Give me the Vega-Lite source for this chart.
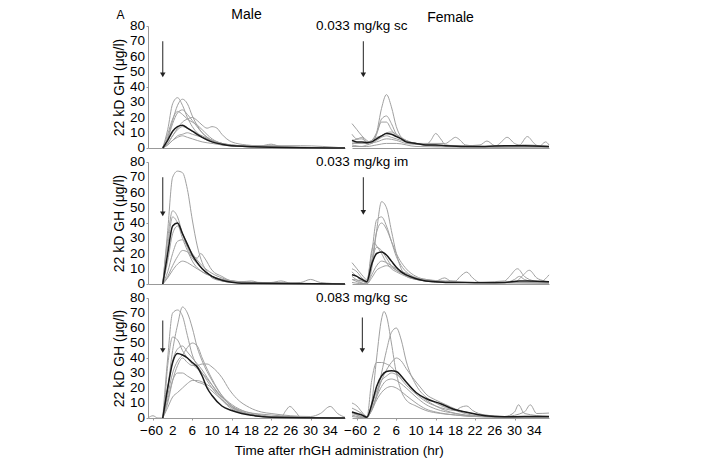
{
  "$schema": "https://vega.github.io/schema/vega-lite/v6.json",
  "padding": {"left": 112, "top": 8, "right": 5, "bottom": 5},
  "config": {
    "font": "Liberation Sans",
    "view": {"stroke": null},
    "title": {"fontSize": 14, "fontWeight": "normal", "offset": -3, "color": "#000"},
    "text": {"fontSize": 13.5, "color": "#000"},
    "axis": {"labelColor": "#000", "titleColor": "#000", "grid": false, "domainColor": "#999", "tickColor": "#999"}
  },
  "datasets": {
    "yticks": [{"v":0},{"v":10},{"v":20},{"v":30},{"v":40},{"v":50},{"v":60},{"v":70},{"v":80}],
    "xticks": [{"t":-2.3,"lab":"−60"},{"t":2,"lab":"2"},{"t":6,"lab":"6"},{"t":10,"lab":"10"},{"t":14,"lab":"14"},{"t":18,"lab":"18"},{"t":22,"lab":"22"},{"t":26,"lab":"26"},{"t":30,"lab":"30"},{"t":34,"lab":"34"}],
    "gh": [
      {"g":1,"s":"a","t":0,"v":0},{"g":1,"s":"a","t":1,"v":12},{"g":1,"s":"a","t":2,"v":29},{"g":1,"s":"a","t":3,"v":33},{"g":1,"s":"a","t":4,"v":28},{"g":1,"s":"a","t":5,"v":20},{"g":1,"s":"a","t":6,"v":14},{"g":1,"s":"a","t":8,"v":7},{"g":1,"s":"a","t":10,"v":4},{"g":1,"s":"a","t":12,"v":2},{"g":1,"s":"a","t":16,"v":1},{"g":1,"s":"a","t":20,"v":0.5},{"g":1,"s":"a","t":37,"v":0},
      {"g":1,"s":"b","t":0,"v":0},{"g":1,"s":"b","t":1,"v":7},{"g":1,"s":"b","t":2,"v":18},{"g":1,"s":"b","t":3,"v":28},{"g":1,"s":"b","t":4,"v":32},{"g":1,"s":"b","t":5,"v":29},{"g":1,"s":"b","t":6,"v":21},{"g":1,"s":"b","t":8,"v":10},{"g":1,"s":"b","t":10,"v":5},{"g":1,"s":"b","t":12,"v":2.5},{"g":1,"s":"b","t":16,"v":1},{"g":1,"s":"b","t":37,"v":0},
      {"g":1,"s":"c","t":0,"v":0},{"g":1,"s":"c","t":1,"v":6},{"g":1,"s":"c","t":2,"v":16},{"g":1,"s":"c","t":3,"v":23},{"g":1,"s":"c","t":4,"v":25},{"g":1,"s":"c","t":5,"v":22},{"g":1,"s":"c","t":6,"v":18},{"g":1,"s":"c","t":8,"v":10},{"g":1,"s":"c","t":10,"v":5},{"g":1,"s":"c","t":12,"v":3},{"g":1,"s":"c","t":16,"v":1.5},{"g":1,"s":"c","t":20,"v":1.5},{"g":1,"s":"c","t":22,"v":2.5},{"g":1,"s":"c","t":24,"v":1},{"g":1,"s":"c","t":37,"v":0},
      {"g":1,"s":"d","t":0,"v":0},{"g":1,"s":"d","t":1,"v":9},{"g":1,"s":"d","t":2,"v":19},{"g":1,"s":"d","t":3,"v":24},{"g":1,"s":"d","t":4,"v":22},{"g":1,"s":"d","t":5,"v":19},{"g":1,"s":"d","t":6,"v":17},{"g":1,"s":"d","t":7,"v":15},{"g":1,"s":"d","t":8,"v":12},{"g":1,"s":"d","t":10,"v":6},{"g":1,"s":"d","t":12,"v":3},{"g":1,"s":"d","t":15,"v":1.5},{"g":1,"s":"d","t":28,"v":1.5},{"g":1,"s":"d","t":37,"v":0},
      {"g":1,"s":"e","t":0,"v":0},{"g":1,"s":"e","t":1,"v":3},{"g":1,"s":"e","t":2,"v":8},{"g":1,"s":"e","t":3,"v":13},{"g":1,"s":"e","t":4,"v":17},{"g":1,"s":"e","t":5,"v":19},{"g":1,"s":"e","t":6,"v":20},{"g":1,"s":"e","t":7,"v":18},{"g":1,"s":"e","t":8,"v":15},{"g":1,"s":"e","t":9,"v":13},{"g":1,"s":"e","t":10,"v":14},{"g":1,"s":"e","t":11,"v":13},{"g":1,"s":"e","t":12,"v":9},{"g":1,"s":"e","t":14,"v":4},{"g":1,"s":"e","t":17,"v":2},{"g":1,"s":"e","t":22,"v":1},{"g":1,"s":"e","t":37,"v":0},
      {"g":1,"s":"f","t":0,"v":0},{"g":1,"s":"f","t":1,"v":3},{"g":1,"s":"f","t":2,"v":8},{"g":1,"s":"f","t":3,"v":12},{"g":1,"s":"f","t":4,"v":14},{"g":1,"s":"f","t":5,"v":13},{"g":1,"s":"f","t":6,"v":11},{"g":1,"s":"f","t":8,"v":8},{"g":1,"s":"f","t":10,"v":5},{"g":1,"s":"f","t":12,"v":3},{"g":1,"s":"f","t":14,"v":2},{"g":1,"s":"f","t":18,"v":1},{"g":1,"s":"f","t":37,"v":0},
      {"g":1,"s":"g","t":0,"v":0},{"g":1,"s":"g","t":1,"v":2},{"g":1,"s":"g","t":2,"v":5},{"g":1,"s":"g","t":3,"v":8},{"g":1,"s":"g","t":4,"v":9},{"g":1,"s":"g","t":5,"v":10},{"g":1,"s":"g","t":6,"v":9},{"g":1,"s":"g","t":8,"v":7},{"g":1,"s":"g","t":10,"v":5},{"g":1,"s":"g","t":12,"v":3},{"g":1,"s":"g","t":14,"v":2},{"g":1,"s":"g","t":18,"v":1},{"g":1,"s":"g","t":37,"v":0},
      {"g":1,"s":"h","t":0,"v":0},{"g":1,"s":"h","t":1,"v":2},{"g":1,"s":"h","t":2,"v":5},{"g":1,"s":"h","t":3,"v":7},{"g":1,"s":"h","t":4,"v":8},{"g":1,"s":"h","t":5,"v":7},{"g":1,"s":"h","t":6,"v":6},{"g":1,"s":"h","t":8,"v":4},{"g":1,"s":"h","t":10,"v":3},{"g":1,"s":"h","t":12,"v":2},{"g":1,"s":"h","t":16,"v":1},{"g":1,"s":"h","t":37,"v":0},
      {"g":1,"s":"m","t":0,"v":0},{"g":1,"s":"m","t":1,"v":5},{"g":1,"s":"m","t":2,"v":11},{"g":1,"s":"m","t":3,"v":14},{"g":1,"s":"m","t":4,"v":15},{"g":1,"s":"m","t":5,"v":13},{"g":1,"s":"m","t":6,"v":11},{"g":1,"s":"m","t":8,"v":7},{"g":1,"s":"m","t":10,"v":4},{"g":1,"s":"m","t":12,"v":2.5},{"g":1,"s":"m","t":14,"v":1.5},{"g":1,"s":"m","t":17,"v":1},{"g":1,"s":"m","t":22,"v":0.5},{"g":1,"s":"m","t":37,"v":0},

      {"g":2,"s":"a","t":-3,"v":16},{"g":2,"s":"a","t":-2,"v":12},{"g":2,"s":"a","t":-1,"v":8},{"g":2,"s":"a","t":0,"v":5},{"g":2,"s":"a","t":1,"v":3},{"g":2,"s":"a","t":2,"v":10},{"g":2,"s":"a","t":3,"v":26},{"g":2,"s":"a","t":4,"v":35},{"g":2,"s":"a","t":5,"v":27},{"g":2,"s":"a","t":6,"v":14},{"g":2,"s":"a","t":7,"v":7},{"g":2,"s":"a","t":8,"v":4},{"g":2,"s":"a","t":10,"v":3},{"g":2,"s":"a","t":12,"v":2},{"g":2,"s":"a","t":16,"v":1},{"g":2,"s":"a","t":24,"v":1},{"g":2,"s":"a","t":37,"v":1},
      {"g":2,"s":"b","t":-3,"v":5},{"g":2,"s":"b","t":-1,"v":6},{"g":2,"s":"b","t":0,"v":4},{"g":2,"s":"b","t":1,"v":4},{"g":2,"s":"b","t":2,"v":9},{"g":2,"s":"b","t":3,"v":19},{"g":2,"s":"b","t":4,"v":21},{"g":2,"s":"b","t":5,"v":16},{"g":2,"s":"b","t":6,"v":9},{"g":2,"s":"b","t":7,"v":6},{"g":2,"s":"b","t":8,"v":4},{"g":2,"s":"b","t":10,"v":3},{"g":2,"s":"b","t":12,"v":2},{"g":2,"s":"b","t":13,"v":5},{"g":2,"s":"b","t":14,"v":9.5},{"g":2,"s":"b","t":15,"v":6},{"g":2,"s":"b","t":16,"v":2},{"g":2,"s":"b","t":20,"v":1},{"g":2,"s":"b","t":37,"v":1},
      {"g":2,"s":"c","t":-3,"v":9},{"g":2,"s":"c","t":-2,"v":6},{"g":2,"s":"c","t":-1,"v":7},{"g":2,"s":"c","t":0,"v":4},{"g":2,"s":"c","t":1,"v":5},{"g":2,"s":"c","t":2,"v":10},{"g":2,"s":"c","t":3,"v":17},{"g":2,"s":"c","t":4,"v":17},{"g":2,"s":"c","t":5,"v":12},{"g":2,"s":"c","t":6,"v":8},{"g":2,"s":"c","t":8,"v":5},{"g":2,"s":"c","t":10,"v":3},{"g":2,"s":"c","t":16,"v":3},{"g":2,"s":"c","t":17,"v":5},{"g":2,"s":"c","t":18,"v":7},{"g":2,"s":"c","t":19,"v":5},{"g":2,"s":"c","t":20,"v":2},{"g":2,"s":"c","t":24,"v":1},{"g":2,"s":"c","t":37,"v":1},
      {"g":2,"s":"d","t":-3,"v":3},{"g":2,"s":"d","t":0,"v":3},{"g":2,"s":"d","t":1,"v":5},{"g":2,"s":"d","t":2,"v":7},{"g":2,"s":"d","t":3,"v":8},{"g":2,"s":"d","t":4,"v":10},{"g":2,"s":"d","t":5,"v":10.5},{"g":2,"s":"d","t":6,"v":9},{"g":2,"s":"d","t":7,"v":7},{"g":2,"s":"d","t":8,"v":5},{"g":2,"s":"d","t":10,"v":3},{"g":2,"s":"d","t":12,"v":2},{"g":2,"s":"d","t":16,"v":1},{"g":2,"s":"d","t":24,"v":1},{"g":2,"s":"d","t":28,"v":1},{"g":2,"s":"d","t":32,"v":2},{"g":2,"s":"d","t":37,"v":1},
      {"g":2,"s":"e","t":-3,"v":2},{"g":2,"s":"e","t":-1,"v":1},{"g":2,"s":"e","t":0,"v":2},{"g":2,"s":"e","t":1,"v":3},{"g":2,"s":"e","t":2,"v":5},{"g":2,"s":"e","t":3,"v":7},{"g":2,"s":"e","t":4,"v":8},{"g":2,"s":"e","t":5,"v":7},{"g":2,"s":"e","t":6,"v":6},{"g":2,"s":"e","t":8,"v":4},{"g":2,"s":"e","t":10,"v":2.5},{"g":2,"s":"e","t":14,"v":2},{"g":2,"s":"e","t":20,"v":1.5},{"g":2,"s":"e","t":23,"v":2},{"g":2,"s":"e","t":24.4,"v":4.6},{"g":2,"s":"e","t":26,"v":1.5},{"g":2,"s":"e","t":30,"v":1},{"g":2,"s":"e","t":37,"v":0.5},
      {"g":2,"s":"f","t":-3,"v":4},{"g":2,"s":"f","t":0,"v":3},{"g":2,"s":"f","t":2,"v":4},{"g":2,"s":"f","t":4,"v":6},{"g":2,"s":"f","t":6,"v":5},{"g":2,"s":"f","t":8,"v":3},{"g":2,"s":"f","t":12,"v":2},{"g":2,"s":"f","t":20,"v":1},{"g":2,"s":"f","t":26,"v":1},{"g":2,"s":"f","t":27,"v":3},{"g":2,"s":"f","t":28.5,"v":7},{"g":2,"s":"f","t":30,"v":3},{"g":2,"s":"f","t":31,"v":2},{"g":2,"s":"f","t":32.6,"v":7.5},{"g":2,"s":"f","t":34,"v":3},{"g":2,"s":"f","t":35,"v":1},{"g":2,"s":"f","t":36.3,"v":4},{"g":2,"s":"f","t":37,"v":2},
      {"g":2,"s":"g","t":-3,"v":1},{"g":2,"s":"g","t":0,"v":1},{"g":2,"s":"g","t":2,"v":2},{"g":2,"s":"g","t":4,"v":3},{"g":2,"s":"g","t":6,"v":3},{"g":2,"s":"g","t":10,"v":1},{"g":2,"s":"g","t":20,"v":0.5},{"g":2,"s":"g","t":37,"v":0},
      {"g":2,"s":"m","t":-3,"v":5},{"g":2,"s":"m","t":-2,"v":4},{"g":2,"s":"m","t":-1,"v":4},{"g":2,"s":"m","t":0,"v":3.5},{"g":2,"s":"m","t":1,"v":4},{"g":2,"s":"m","t":2,"v":6},{"g":2,"s":"m","t":3,"v":8},{"g":2,"s":"m","t":4,"v":9.5},{"g":2,"s":"m","t":5,"v":9},{"g":2,"s":"m","t":6,"v":7.5},{"g":2,"s":"m","t":7,"v":6},{"g":2,"s":"m","t":8,"v":4},{"g":2,"s":"m","t":10,"v":3},{"g":2,"s":"m","t":12,"v":2},{"g":2,"s":"m","t":14,"v":2},{"g":2,"s":"m","t":16,"v":1.5},{"g":2,"s":"m","t":20,"v":1},{"g":2,"s":"m","t":24,"v":1},{"g":2,"s":"m","t":28,"v":1.5},{"g":2,"s":"m","t":32,"v":1.5},{"g":2,"s":"m","t":37,"v":1},

      {"g":3,"s":"a","t":0,"v":0},{"g":3,"s":"a","t":1,"v":35},{"g":3,"s":"a","t":2,"v":70},{"g":3,"s":"a","t":3,"v":74},{"g":3,"s":"a","t":4,"v":73},{"g":3,"s":"a","t":5,"v":62},{"g":3,"s":"a","t":6,"v":42},{"g":3,"s":"a","t":7,"v":25},{"g":3,"s":"a","t":8,"v":14},{"g":3,"s":"a","t":9,"v":8},{"g":3,"s":"a","t":10,"v":4},{"g":3,"s":"a","t":12,"v":2},{"g":3,"s":"a","t":14,"v":1},{"g":3,"s":"a","t":37,"v":0},
      {"g":3,"s":"b","t":0,"v":0},{"g":3,"s":"b","t":1,"v":30},{"g":3,"s":"b","t":2,"v":48},{"g":3,"s":"b","t":3,"v":44},{"g":3,"s":"b","t":4,"v":33},{"g":3,"s":"b","t":5,"v":24},{"g":3,"s":"b","t":6,"v":18},{"g":3,"s":"b","t":7,"v":17},{"g":3,"s":"b","t":7.7,"v":20},{"g":3,"s":"b","t":8.5,"v":17},{"g":3,"s":"b","t":10,"v":9},{"g":3,"s":"b","t":12,"v":5},{"g":3,"s":"b","t":14,"v":2},{"g":3,"s":"b","t":18,"v":1},{"g":3,"s":"b","t":37,"v":0},
      {"g":3,"s":"c","t":0,"v":0},{"g":3,"s":"c","t":1,"v":25},{"g":3,"s":"c","t":2,"v":44},{"g":3,"s":"c","t":3,"v":40},{"g":3,"s":"c","t":4,"v":30},{"g":3,"s":"c","t":5,"v":22},{"g":3,"s":"c","t":6,"v":15},{"g":3,"s":"c","t":8,"v":8},{"g":3,"s":"c","t":10,"v":5},{"g":3,"s":"c","t":12,"v":3},{"g":3,"s":"c","t":14,"v":2},{"g":3,"s":"c","t":16,"v":1.5},{"g":3,"s":"c","t":18,"v":2},{"g":3,"s":"c","t":20,"v":0.5},{"g":3,"s":"c","t":37,"v":0},
      {"g":3,"s":"d","t":0,"v":0},{"g":3,"s":"d","t":1,"v":15},{"g":3,"s":"d","t":2,"v":33},{"g":3,"s":"d","t":3,"v":38},{"g":3,"s":"d","t":4,"v":33},{"g":3,"s":"d","t":5,"v":26},{"g":3,"s":"d","t":6,"v":19},{"g":3,"s":"d","t":8,"v":10},{"g":3,"s":"d","t":10,"v":5},{"g":3,"s":"d","t":12,"v":2},{"g":3,"s":"d","t":15,"v":1},{"g":3,"s":"d","t":22,"v":1},{"g":3,"s":"d","t":24,"v":2},{"g":3,"s":"d","t":26,"v":0.5},{"g":3,"s":"d","t":37,"v":0},
      {"g":3,"s":"e","t":0,"v":0},{"g":3,"s":"e","t":1,"v":8},{"g":3,"s":"e","t":2,"v":20},{"g":3,"s":"e","t":3,"v":28},{"g":3,"s":"e","t":4,"v":29},{"g":3,"s":"e","t":5,"v":25},{"g":3,"s":"e","t":6,"v":20},{"g":3,"s":"e","t":8,"v":12},{"g":3,"s":"e","t":10,"v":7},{"g":3,"s":"e","t":12,"v":4},{"g":3,"s":"e","t":14,"v":2},{"g":3,"s":"e","t":17,"v":1},{"g":3,"s":"e","t":24,"v":0.5},{"g":3,"s":"e","t":28,"v":1},{"g":3,"s":"e","t":30,"v":3},{"g":3,"s":"e","t":32,"v":1},{"g":3,"s":"e","t":37,"v":0},
      {"g":3,"s":"f","t":0,"v":0},{"g":3,"s":"f","t":1,"v":5},{"g":3,"s":"f","t":2,"v":12},{"g":3,"s":"f","t":3,"v":18},{"g":3,"s":"f","t":4,"v":22},{"g":3,"s":"f","t":5,"v":21},{"g":3,"s":"f","t":6,"v":17},{"g":3,"s":"f","t":8,"v":10},{"g":3,"s":"f","t":10,"v":5},{"g":3,"s":"f","t":12,"v":3},{"g":3,"s":"f","t":14,"v":2},{"g":3,"s":"f","t":20,"v":1},{"g":3,"s":"f","t":37,"v":0},
      {"g":3,"s":"g","t":0,"v":0},{"g":3,"s":"g","t":1,"v":4},{"g":3,"s":"g","t":2,"v":9},{"g":3,"s":"g","t":3,"v":13},{"g":3,"s":"g","t":4,"v":15},{"g":3,"s":"g","t":5,"v":14},{"g":3,"s":"g","t":6,"v":12},{"g":3,"s":"g","t":8,"v":8},{"g":3,"s":"g","t":10,"v":5},{"g":3,"s":"g","t":12,"v":3},{"g":3,"s":"g","t":16,"v":1},{"g":3,"s":"g","t":37,"v":0},
      {"g":3,"s":"m","t":0,"v":0},{"g":3,"s":"m","t":1,"v":20},{"g":3,"s":"m","t":2,"v":38},{"g":3,"s":"m","t":3,"v":40},{"g":3,"s":"m","t":4,"v":33},{"g":3,"s":"m","t":5,"v":26},{"g":3,"s":"m","t":6,"v":19},{"g":3,"s":"m","t":7,"v":14},{"g":3,"s":"m","t":8,"v":10},{"g":3,"s":"m","t":10,"v":5},{"g":3,"s":"m","t":12,"v":2.5},{"g":3,"s":"m","t":14,"v":1.2},{"g":3,"s":"m","t":16,"v":0.5},{"g":3,"s":"m","t":37,"v":0},

      {"g":4,"s":"a","t":-3,"v":3},{"g":4,"s":"a","t":-1,"v":2},{"g":4,"s":"a","t":0,"v":1},{"g":4,"s":"a","t":1,"v":10},{"g":4,"s":"a","t":2,"v":35},{"g":4,"s":"a","t":3,"v":54},{"g":4,"s":"a","t":4,"v":50},{"g":4,"s":"a","t":5,"v":35},{"g":4,"s":"a","t":6,"v":20},{"g":4,"s":"a","t":7,"v":10},{"g":4,"s":"a","t":8,"v":5},{"g":4,"s":"a","t":10,"v":3},{"g":4,"s":"a","t":12,"v":2},{"g":4,"s":"a","t":14,"v":1},{"g":4,"s":"a","t":20,"v":1},{"g":4,"s":"a","t":30,"v":1},{"g":4,"s":"a","t":37,"v":0.5},
      {"g":4,"s":"b","t":-3,"v":14},{"g":4,"s":"b","t":-2,"v":10},{"g":4,"s":"b","t":-1,"v":6},{"g":4,"s":"b","t":0,"v":3},{"g":4,"s":"b","t":1,"v":20},{"g":4,"s":"b","t":2,"v":42},{"g":4,"s":"b","t":3,"v":44},{"g":4,"s":"b","t":4,"v":38},{"g":4,"s":"b","t":5,"v":28},{"g":4,"s":"b","t":6,"v":18},{"g":4,"s":"b","t":7,"v":12},{"g":4,"s":"b","t":8,"v":8},{"g":4,"s":"b","t":10,"v":4},{"g":4,"s":"b","t":12,"v":2},{"g":4,"s":"b","t":14,"v":2},{"g":4,"s":"b","t":15.8,"v":4},{"g":4,"s":"b","t":17,"v":2},{"g":4,"s":"b","t":20,"v":1},{"g":4,"s":"b","t":37,"v":1},
      {"g":4,"s":"c","t":-3,"v":10},{"g":4,"s":"c","t":-2,"v":8},{"g":4,"s":"c","t":-1,"v":4},{"g":4,"s":"c","t":0,"v":2},{"g":4,"s":"c","t":1,"v":15},{"g":4,"s":"c","t":2,"v":34},{"g":4,"s":"c","t":3,"v":40},{"g":4,"s":"c","t":4,"v":36},{"g":4,"s":"c","t":5,"v":28},{"g":4,"s":"c","t":6,"v":20},{"g":4,"s":"c","t":8,"v":10},{"g":4,"s":"c","t":10,"v":5},{"g":4,"s":"c","t":12,"v":3},{"g":4,"s":"c","t":16,"v":2},{"g":4,"s":"c","t":18,"v":2},{"g":4,"s":"c","t":19,"v":5},{"g":4,"s":"c","t":20.3,"v":7.8},{"g":4,"s":"c","t":21.5,"v":4},{"g":4,"s":"c","t":23,"v":1},{"g":4,"s":"c","t":30,"v":1},{"g":4,"s":"c","t":37,"v":1},
      {"g":4,"s":"d","t":-3,"v":8},{"g":4,"s":"d","t":0,"v":1},{"g":4,"s":"d","t":1,"v":22},{"g":4,"s":"d","t":1.5,"v":27},{"g":4,"s":"d","t":2,"v":25},{"g":4,"s":"d","t":3,"v":20},{"g":4,"s":"d","t":4,"v":14},{"g":4,"s":"d","t":5,"v":10},{"g":4,"s":"d","t":6,"v":8},{"g":4,"s":"d","t":8,"v":5},{"g":4,"s":"d","t":10,"v":3},{"g":4,"s":"d","t":12,"v":2},{"g":4,"s":"d","t":20,"v":1},{"g":4,"s":"d","t":28,"v":2},{"g":4,"s":"d","t":29,"v":5},{"g":4,"s":"d","t":30.6,"v":10},{"g":4,"s":"d","t":32,"v":5},{"g":4,"s":"d","t":34,"v":2},{"g":4,"s":"d","t":37,"v":1},
      {"g":4,"s":"e","t":-3,"v":5},{"g":4,"s":"e","t":0,"v":0},{"g":4,"s":"e","t":1,"v":15},{"g":4,"s":"e","t":2,"v":24},{"g":4,"s":"e","t":3,"v":22},{"g":4,"s":"e","t":4,"v":17},{"g":4,"s":"e","t":5,"v":12},{"g":4,"s":"e","t":6,"v":9},{"g":4,"s":"e","t":8,"v":6},{"g":4,"s":"e","t":10,"v":4},{"g":4,"s":"e","t":12,"v":2},{"g":4,"s":"e","t":20,"v":1},{"g":4,"s":"e","t":30,"v":1},{"g":4,"s":"e","t":31.5,"v":5},{"g":4,"s":"e","t":33,"v":9},{"g":4,"s":"e","t":34.5,"v":4},{"g":4,"s":"e","t":36,"v":2},{"g":4,"s":"e","t":37,"v":1},
      {"g":4,"s":"f","t":-3,"v":3},{"g":4,"s":"f","t":0,"v":0},{"g":4,"s":"f","t":1,"v":6},{"g":4,"s":"f","t":2,"v":12},{"g":4,"s":"f","t":3,"v":15},{"g":4,"s":"f","t":4,"v":14},{"g":4,"s":"f","t":5,"v":12},{"g":4,"s":"f","t":6,"v":10},{"g":4,"s":"f","t":8,"v":7},{"g":4,"s":"f","t":10,"v":4},{"g":4,"s":"f","t":12,"v":3},{"g":4,"s":"f","t":14,"v":2},{"g":4,"s":"f","t":20,"v":1},{"g":4,"s":"f","t":28,"v":1},{"g":4,"s":"f","t":30,"v":3},{"g":4,"s":"f","t":31,"v":5},{"g":4,"s":"f","t":32,"v":3},{"g":4,"s":"f","t":35,"v":1},{"g":4,"s":"f","t":37,"v":6},
      {"g":4,"s":"g","t":-3,"v":1},{"g":4,"s":"g","t":0,"v":0},{"g":4,"s":"g","t":1,"v":4},{"g":4,"s":"g","t":2,"v":9},{"g":4,"s":"g","t":3,"v":11},{"g":4,"s":"g","t":4,"v":12},{"g":4,"s":"g","t":5,"v":11},{"g":4,"s":"g","t":6,"v":9},{"g":4,"s":"g","t":8,"v":6},{"g":4,"s":"g","t":10,"v":3},{"g":4,"s":"g","t":14,"v":2},{"g":4,"s":"g","t":20,"v":1},{"g":4,"s":"g","t":37,"v":0.5},
      {"g":4,"s":"m","t":-3,"v":6},{"g":4,"s":"m","t":-2,"v":5},{"g":4,"s":"m","t":-1,"v":3},{"g":4,"s":"m","t":0,"v":1.5},{"g":4,"s":"m","t":1,"v":13},{"g":4,"s":"m","t":2,"v":20},{"g":4,"s":"m","t":3,"v":21},{"g":4,"s":"m","t":4,"v":19},{"g":4,"s":"m","t":5,"v":15},{"g":4,"s":"m","t":6,"v":11},{"g":4,"s":"m","t":7,"v":8},{"g":4,"s":"m","t":8,"v":6},{"g":4,"s":"m","t":10,"v":3.5},{"g":4,"s":"m","t":12,"v":2},{"g":4,"s":"m","t":14,"v":1.5},{"g":4,"s":"m","t":16,"v":1},{"g":4,"s":"m","t":20,"v":1},{"g":4,"s":"m","t":24,"v":0.8},{"g":4,"s":"m","t":28,"v":1},{"g":4,"s":"m","t":31,"v":2},{"g":4,"s":"m","t":33,"v":2},{"g":4,"s":"m","t":37,"v":1.5},

      {"g":5,"s":"a","t":0,"v":0},{"g":5,"s":"a","t":1,"v":40},{"g":5,"s":"a","t":2,"v":70},{"g":5,"s":"a","t":3,"v":72},{"g":5,"s":"a","t":4,"v":68},{"g":5,"s":"a","t":5,"v":55},{"g":5,"s":"a","t":6,"v":42},{"g":5,"s":"a","t":7,"v":35},{"g":5,"s":"a","t":8,"v":30},{"g":5,"s":"a","t":10,"v":20},{"g":5,"s":"a","t":12,"v":12},{"g":5,"s":"a","t":14,"v":6},{"g":5,"s":"a","t":17,"v":3},{"g":5,"s":"a","t":20,"v":1},{"g":5,"s":"a","t":37,"v":0},
      {"g":5,"s":"b","t":0,"v":0},{"g":5,"s":"b","t":1,"v":20},{"g":5,"s":"b","t":2,"v":45},{"g":5,"s":"b","t":3,"v":62},{"g":5,"s":"b","t":4,"v":74},{"g":5,"s":"b","t":5,"v":70},{"g":5,"s":"b","t":6,"v":60},{"g":5,"s":"b","t":7,"v":47},{"g":5,"s":"b","t":8,"v":38},{"g":5,"s":"b","t":10,"v":25},{"g":5,"s":"b","t":12,"v":15},{"g":5,"s":"b","t":14,"v":9},{"g":5,"s":"b","t":17,"v":4},{"g":5,"s":"b","t":20,"v":2},{"g":5,"s":"b","t":22,"v":1},{"g":5,"s":"b","t":37,"v":0},
      {"g":5,"s":"c","t":-3,"v":0},{"g":5,"s":"c","t":-2,"v":1.5},{"g":5,"s":"c","t":-1,"v":0},{"g":5,"s":"c","t":0,"v":0},{"g":5,"s":"c","t":1,"v":35},{"g":5,"s":"c","t":2,"v":54},{"g":5,"s":"c","t":3,"v":52},{"g":5,"s":"c","t":4,"v":45},{"g":5,"s":"c","t":5,"v":40},{"g":5,"s":"c","t":6,"v":36},{"g":5,"s":"c","t":8,"v":30},{"g":5,"s":"c","t":10,"v":22},{"g":5,"s":"c","t":12,"v":14},{"g":5,"s":"c","t":14,"v":8},{"g":5,"s":"c","t":16,"v":4},{"g":5,"s":"c","t":20,"v":1.5},{"g":5,"s":"c","t":24,"v":0.5},{"g":5,"s":"c","t":37,"v":0},
      {"g":5,"s":"d","t":0,"v":0},{"g":5,"s":"d","t":1,"v":15},{"g":5,"s":"d","t":2,"v":30},{"g":5,"s":"d","t":3,"v":38},{"g":5,"s":"d","t":4,"v":42},{"g":5,"s":"d","t":5,"v":47},{"g":5,"s":"d","t":6,"v":50},{"g":5,"s":"d","t":7,"v":48},{"g":5,"s":"d","t":8,"v":40},{"g":5,"s":"d","t":10,"v":26},{"g":5,"s":"d","t":12,"v":15},{"g":5,"s":"d","t":14,"v":8},{"g":5,"s":"d","t":17,"v":3},{"g":5,"s":"d","t":20,"v":1},{"g":5,"s":"d","t":24,"v":0.5},{"g":5,"s":"d","t":25,"v":5},{"g":5,"s":"d","t":25.8,"v":7.7},{"g":5,"s":"d","t":27,"v":4},{"g":5,"s":"d","t":28,"v":0.5},{"g":5,"s":"d","t":37,"v":0},
      {"g":5,"s":"e","t":0,"v":0},{"g":5,"s":"e","t":1,"v":20},{"g":5,"s":"e","t":2,"v":38},{"g":5,"s":"e","t":3,"v":46},{"g":5,"s":"e","t":4,"v":48},{"g":5,"s":"e","t":5,"v":44},{"g":5,"s":"e","t":6,"v":40},{"g":5,"s":"e","t":8,"v":32},{"g":5,"s":"e","t":10,"v":22},{"g":5,"s":"e","t":12,"v":13},{"g":5,"s":"e","t":14,"v":7},{"g":5,"s":"e","t":17,"v":3},{"g":5,"s":"e","t":20,"v":1},{"g":5,"s":"e","t":37,"v":0},
      {"g":5,"s":"f","t":0,"v":0},{"g":5,"s":"f","t":1,"v":10},{"g":5,"s":"f","t":2,"v":25},{"g":5,"s":"f","t":3,"v":35},{"g":5,"s":"f","t":4,"v":40},{"g":5,"s":"f","t":5,"v":37},{"g":5,"s":"f","t":6,"v":35},{"g":5,"s":"f","t":7,"v":35},{"g":5,"s":"f","t":8,"v":36},{"g":5,"s":"f","t":9,"v":36},{"g":5,"s":"f","t":10,"v":34},{"g":5,"s":"f","t":12,"v":27},{"g":5,"s":"f","t":13.5,"v":19},{"g":5,"s":"f","t":15,"v":13},{"g":5,"s":"f","t":17.6,"v":7},{"g":5,"s":"f","t":20,"v":4},{"g":5,"s":"f","t":22,"v":3},{"g":5,"s":"f","t":26,"v":1.5},{"g":5,"s":"f","t":30,"v":1},{"g":5,"s":"f","t":32,"v":3},{"g":5,"s":"f","t":34,"v":7.7},{"g":5,"s":"f","t":35.5,"v":3},{"g":5,"s":"f","t":37,"v":0.5},
      {"g":5,"s":"g","t":0,"v":0},{"g":5,"s":"g","t":1,"v":7},{"g":5,"s":"g","t":2,"v":14},{"g":5,"s":"g","t":3,"v":17},{"g":5,"s":"g","t":4,"v":20},{"g":5,"s":"g","t":5,"v":23},{"g":5,"s":"g","t":6,"v":25},{"g":5,"s":"g","t":7,"v":25},{"g":5,"s":"g","t":8,"v":24},{"g":5,"s":"g","t":10,"v":20},{"g":5,"s":"g","t":12,"v":14},{"g":5,"s":"g","t":14,"v":8},{"g":5,"s":"g","t":17,"v":4},{"g":5,"s":"g","t":22,"v":2},{"g":5,"s":"g","t":26,"v":1},{"g":5,"s":"g","t":37,"v":0},
      {"g":5,"s":"h","t":0,"v":0},{"g":5,"s":"h","t":1,"v":12},{"g":5,"s":"h","t":2,"v":25},{"g":5,"s":"h","t":3,"v":30},{"g":5,"s":"h","t":4,"v":30},{"g":5,"s":"h","t":5,"v":28},{"g":5,"s":"h","t":6,"v":26},{"g":5,"s":"h","t":7,"v":24},{"g":5,"s":"h","t":8,"v":23},{"g":5,"s":"h","t":10,"v":18},{"g":5,"s":"h","t":12,"v":12},{"g":5,"s":"h","t":14,"v":7},{"g":5,"s":"h","t":17,"v":3},{"g":5,"s":"h","t":20,"v":1},{"g":5,"s":"h","t":37,"v":0},
      {"g":5,"s":"m","t":0,"v":0},{"g":5,"s":"m","t":1,"v":20},{"g":5,"s":"m","t":2,"v":37},{"g":5,"s":"m","t":3,"v":43},{"g":5,"s":"m","t":4,"v":42},{"g":5,"s":"m","t":5,"v":40},{"g":5,"s":"m","t":6,"v":37},{"g":5,"s":"m","t":7,"v":34},{"g":5,"s":"m","t":8,"v":28},{"g":5,"s":"m","t":9,"v":20},{"g":5,"s":"m","t":10,"v":15},{"g":5,"s":"m","t":12,"v":8},{"g":5,"s":"m","t":14,"v":5},{"g":5,"s":"m","t":16,"v":3},{"g":5,"s":"m","t":18,"v":1.8},{"g":5,"s":"m","t":22,"v":0.5},{"g":5,"s":"m","t":37,"v":0},

      {"g":6,"s":"a","t":-3,"v":3},{"g":6,"s":"a","t":-1,"v":1},{"g":6,"s":"a","t":0,"v":0},{"g":6,"s":"a","t":1,"v":10},{"g":6,"s":"a","t":2,"v":40},{"g":6,"s":"a","t":3,"v":66},{"g":6,"s":"a","t":3.5,"v":71},{"g":6,"s":"a","t":4,"v":68},{"g":6,"s":"a","t":5,"v":50},{"g":6,"s":"a","t":6,"v":30},{"g":6,"s":"a","t":7,"v":18},{"g":6,"s":"a","t":8,"v":12},{"g":6,"s":"a","t":10,"v":8},{"g":6,"s":"a","t":12,"v":5},{"g":6,"s":"a","t":15,"v":3},{"g":6,"s":"a","t":18,"v":2},{"g":6,"s":"a","t":22,"v":1},{"g":6,"s":"a","t":30,"v":1},{"g":6,"s":"a","t":37,"v":1},
      {"g":6,"s":"b","t":-3,"v":10},{"g":6,"s":"b","t":-2,"v":8},{"g":6,"s":"b","t":-1,"v":4},{"g":6,"s":"b","t":0,"v":1},{"g":6,"s":"b","t":1,"v":5},{"g":6,"s":"b","t":2,"v":15},{"g":6,"s":"b","t":3,"v":30},{"g":6,"s":"b","t":4,"v":45},{"g":6,"s":"b","t":5,"v":57},{"g":6,"s":"b","t":6,"v":60},{"g":6,"s":"b","t":7,"v":52},{"g":6,"s":"b","t":8,"v":38},{"g":6,"s":"b","t":10,"v":22},{"g":6,"s":"b","t":12,"v":14},{"g":6,"s":"b","t":14,"v":10},{"g":6,"s":"b","t":16,"v":7},{"g":6,"s":"b","t":18,"v":5},{"g":6,"s":"b","t":20,"v":3},{"g":6,"s":"b","t":24,"v":1},{"g":6,"s":"b","t":37,"v":0.5},
      {"g":6,"s":"c","t":-3,"v":6.6},{"g":6,"s":"c","t":-2,"v":5},{"g":6,"s":"c","t":-1,"v":3},{"g":6,"s":"c","t":0,"v":1},{"g":6,"s":"c","t":1,"v":6},{"g":6,"s":"c","t":2,"v":15},{"g":6,"s":"c","t":3,"v":25},{"g":6,"s":"c","t":4,"v":32},{"g":6,"s":"c","t":5,"v":37},{"g":6,"s":"c","t":6,"v":40},{"g":6,"s":"c","t":7,"v":38},{"g":6,"s":"c","t":8,"v":33},{"g":6,"s":"c","t":10,"v":24},{"g":6,"s":"c","t":11,"v":20},{"g":6,"s":"c","t":12,"v":16},{"g":6,"s":"c","t":14,"v":12},{"g":6,"s":"c","t":16,"v":9},{"g":6,"s":"c","t":18,"v":6},{"g":6,"s":"c","t":20,"v":4},{"g":6,"s":"c","t":24,"v":2},{"g":6,"s":"c","t":28,"v":1},{"g":6,"s":"c","t":30,"v":4},{"g":6,"s":"c","t":30.8,"v":8.8},{"g":6,"s":"c","t":32,"v":3},{"g":6,"s":"c","t":37,"v":1},
      {"g":6,"s":"d","t":-3,"v":4},{"g":6,"s":"d","t":0,"v":0},{"g":6,"s":"d","t":1,"v":25},{"g":6,"s":"d","t":2,"v":37},{"g":6,"s":"d","t":3,"v":37},{"g":6,"s":"d","t":4,"v":36},{"g":6,"s":"d","t":5,"v":34},{"g":6,"s":"d","t":6,"v":30},{"g":6,"s":"d","t":8,"v":22},{"g":6,"s":"d","t":10,"v":16},{"g":6,"s":"d","t":12,"v":11},{"g":6,"s":"d","t":14,"v":8},{"g":6,"s":"d","t":16,"v":6},{"g":6,"s":"d","t":18,"v":5},{"g":6,"s":"d","t":19,"v":7},{"g":6,"s":"d","t":20.3,"v":8},{"g":6,"s":"d","t":21.5,"v":5},{"g":6,"s":"d","t":24,"v":2},{"g":6,"s":"d","t":28,"v":1},{"g":6,"s":"d","t":32,"v":4},{"g":6,"s":"d","t":33.2,"v":8.8},{"g":6,"s":"d","t":34.5,"v":3},{"g":6,"s":"d","t":37,"v":3.3},
      {"g":6,"s":"e","t":-3,"v":2},{"g":6,"s":"e","t":0,"v":0},{"g":6,"s":"e","t":1,"v":8},{"g":6,"s":"e","t":2,"v":18},{"g":6,"s":"e","t":3,"v":25},{"g":6,"s":"e","t":4,"v":28},{"g":6,"s":"e","t":5,"v":30},{"g":6,"s":"e","t":6,"v":29},{"g":6,"s":"e","t":8,"v":24},{"g":6,"s":"e","t":10,"v":17},{"g":6,"s":"e","t":12,"v":12},{"g":6,"s":"e","t":14,"v":8},{"g":6,"s":"e","t":16,"v":5},{"g":6,"s":"e","t":20,"v":2},{"g":6,"s":"e","t":24,"v":1},{"g":6,"s":"e","t":37,"v":0.5},
      {"g":6,"s":"f","t":-3,"v":1},{"g":6,"s":"f","t":0,"v":0},{"g":6,"s":"f","t":1,"v":6},{"g":6,"s":"f","t":2,"v":14},{"g":6,"s":"f","t":3,"v":21},{"g":6,"s":"f","t":4,"v":25},{"g":6,"s":"f","t":5,"v":26},{"g":6,"s":"f","t":6,"v":25},{"g":6,"s":"f","t":8,"v":20},{"g":6,"s":"f","t":10,"v":14},{"g":6,"s":"f","t":12,"v":9},{"g":6,"s":"f","t":14,"v":6},{"g":6,"s":"f","t":18,"v":3},{"g":6,"s":"f","t":22,"v":1},{"g":6,"s":"f","t":37,"v":0},
      {"g":6,"s":"g","t":0,"v":0},{"g":6,"s":"g","t":1,"v":5},{"g":6,"s":"g","t":2,"v":12},{"g":6,"s":"g","t":3,"v":17},{"g":6,"s":"g","t":4,"v":20},{"g":6,"s":"g","t":5,"v":21},{"g":6,"s":"g","t":6,"v":20},{"g":6,"s":"g","t":8,"v":15},{"g":6,"s":"g","t":10,"v":10},{"g":6,"s":"g","t":12,"v":6},{"g":6,"s":"g","t":14,"v":4},{"g":6,"s":"g","t":18,"v":2},{"g":6,"s":"g","t":22,"v":1},{"g":6,"s":"g","t":37,"v":0},
      {"g":6,"s":"m","t":-3,"v":4},{"g":6,"s":"m","t":-2,"v":3},{"g":6,"s":"m","t":-1,"v":2},{"g":6,"s":"m","t":0,"v":0.5},{"g":6,"s":"m","t":1,"v":9},{"g":6,"s":"m","t":2,"v":21},{"g":6,"s":"m","t":3,"v":28},{"g":6,"s":"m","t":4,"v":31},{"g":6,"s":"m","t":5,"v":31.5},{"g":6,"s":"m","t":6,"v":31},{"g":6,"s":"m","t":7,"v":28},{"g":6,"s":"m","t":8,"v":24},{"g":6,"s":"m","t":10,"v":17},{"g":6,"s":"m","t":12,"v":13},{"g":6,"s":"m","t":15,"v":9.5},{"g":6,"s":"m","t":18,"v":5.5},{"g":6,"s":"m","t":20,"v":4},{"g":6,"s":"m","t":24,"v":1.5},{"g":6,"s":"m","t":28,"v":0.8},{"g":6,"s":"m","t":32,"v":1},{"g":6,"s":"m","t":37,"v":1}
    ]
  },
  "spacing": 0,
  "vconcat": [
    {
      "spacing": 7,
      "bounds": "flush",
      "title": {"text": "A", "anchor": "start", "offset": -14, "dx": 4, "fontSize": 12},
      "hconcat": [
        {
          "width": 197, "height": 122,
          "title": "Male",
          "layer": [
            {"data": {"name": "gh"}, "transform": [{"filter": "datum.g == 1 && datum.s != 'm'"}],
             "mark": {"type": "line", "interpolate": "monotone", "color": "#a0a0a0", "strokeWidth": 1},
             "encoding": {
               "x": {"field": "t", "type": "quantitative", "scale": {"domain": [-3, 37], "nice": false, "zero": false}, "axis": {"labels": false, "ticks": false, "title": null}},
               "y": {"field": "v", "type": "quantitative", "scale": {"domain": [0, 80], "nice": false}, "axis": {"values": [0,10,20,30,40,50,60,70,80], "labels": false, "title": "22 kD GH (μg/l)", "titleFontSize": 14, "titleFontWeight": "normal", "titlePadding": 19, "tickSize": 2}},
               "detail": {"field": "s"}}},
            {"data": {"name": "gh"}, "transform": [{"filter": "datum.g == 1 && datum.s == 'm'"}],
             "mark": {"type": "line", "interpolate": "monotone", "color": "#1a1a1a", "strokeWidth": 1.5},
             "encoding": {"x": {"field": "t", "type": "quantitative"}, "y": {"field": "v", "type": "quantitative"}}},
            {"data": {"name": "yticks"}, "mark": {"type": "text", "align": "right", "baseline": "middle", "dx": -3},
             "encoding": {"x": {"datum": -3}, "y": {"field": "v", "type": "quantitative"}, "text": {"field": "v", "type": "quantitative"}}},
            {"data": {"values": [{}]}, "mark": {"type": "rule", "color": "#222", "strokeWidth": 1},
             "encoding": {"x": {"datum": 0}, "y": {"datum": 70}, "y2": {"datum": 49}}},
            {"data": {"values": [{}]}, "mark": {"type": "point", "shape": "triangle-down", "filled": true, "color": "#222", "size": 30, "opacity": 1},
             "encoding": {"x": {"datum": 0}, "y": {"datum": 48}}},
            {"data": {"values": [{}]}, "mark": {"type": "text", "text": "0.033 mg/kg sc", "align": "left", "baseline": "middle"},
             "encoding": {"x": {"datum": 31.1}, "y": {"datum": 80}}}
          ]
        },
        {
          "width": 197, "height": 122,
          "title": {"text": "Female", "offset": 1},
          "layer": [
            {"data": {"name": "gh"}, "transform": [{"filter": "datum.g == 2 && datum.s != 'm'"}],
             "mark": {"type": "line", "interpolate": "monotone", "color": "#a0a0a0", "strokeWidth": 1},
             "encoding": {
               "x": {"field": "t", "type": "quantitative", "scale": {"domain": [-3, 37], "nice": false, "zero": false}, "axis": {"labels": false, "ticks": false, "title": null}},
               "y": {"field": "v", "type": "quantitative", "scale": {"domain": [0, 80], "nice": false}, "axis": null},
               "detail": {"field": "s"}}},
            {"data": {"name": "gh"}, "transform": [{"filter": "datum.g == 2 && datum.s == 'm'"}],
             "mark": {"type": "line", "interpolate": "monotone", "color": "#1a1a1a", "strokeWidth": 1.5},
             "encoding": {"x": {"field": "t", "type": "quantitative"}, "y": {"field": "v", "type": "quantitative"}}},
            {"data": {"values": [{}]}, "mark": {"type": "rule", "color": "#222", "strokeWidth": 1},
             "encoding": {"x": {"datum": -0.7}, "y": {"datum": 70}, "y2": {"datum": 49}}},
            {"data": {"values": [{}]}, "mark": {"type": "point", "shape": "triangle-down", "filled": true, "color": "#222", "size": 30, "opacity": 1},
             "encoding": {"x": {"datum": -0.7}, "y": {"datum": 48}}}
          ]
        }
      ]
    },
    {
      "spacing": 7,
      "bounds": "flush",
      "hconcat": [
        {
          "width": 197, "height": 122,
          "layer": [
            {"data": {"name": "gh"}, "transform": [{"filter": "datum.g == 3 && datum.s != 'm'"}],
             "mark": {"type": "line", "interpolate": "monotone", "color": "#a0a0a0", "strokeWidth": 1},
             "encoding": {
               "x": {"field": "t", "type": "quantitative", "scale": {"domain": [-3, 37], "nice": false, "zero": false}, "axis": {"labels": false, "ticks": false, "title": null}},
               "y": {"field": "v", "type": "quantitative", "scale": {"domain": [0, 80], "nice": false}, "axis": {"values": [0,10,20,30,40,50,60,70,80], "labels": false, "title": "22 kD GH (μg/l)", "titleFontSize": 14, "titleFontWeight": "normal", "titlePadding": 19, "tickSize": 2}},
               "detail": {"field": "s"}}},
            {"data": {"name": "gh"}, "transform": [{"filter": "datum.g == 3 && datum.s == 'm'"}],
             "mark": {"type": "line", "interpolate": "monotone", "color": "#1a1a1a", "strokeWidth": 1.5},
             "encoding": {"x": {"field": "t", "type": "quantitative"}, "y": {"field": "v", "type": "quantitative"}}},
            {"data": {"name": "yticks"}, "mark": {"type": "text", "align": "right", "baseline": "middle", "dx": -3},
             "encoding": {"x": {"datum": -3}, "y": {"field": "v", "type": "quantitative"}, "text": {"field": "v", "type": "quantitative"}}},
            {"data": {"values": [{}]}, "mark": {"type": "rule", "color": "#222", "strokeWidth": 1},
             "encoding": {"x": {"datum": 0}, "y": {"datum": 70}, "y2": {"datum": 47}}},
            {"data": {"values": [{}]}, "mark": {"type": "point", "shape": "triangle-down", "filled": true, "color": "#222", "size": 30, "opacity": 1},
             "encoding": {"x": {"datum": 0}, "y": {"datum": 46}}},
            {"data": {"values": [{}]}, "mark": {"type": "text", "text": "0.033 mg/kg im", "align": "left", "baseline": "middle"},
             "encoding": {"x": {"datum": 31.1}, "y": {"datum": 80}}}
          ]
        },
        {
          "width": 197, "height": 122,
          "layer": [
            {"data": {"name": "gh"}, "transform": [{"filter": "datum.g == 4 && datum.s != 'm'"}],
             "mark": {"type": "line", "interpolate": "monotone", "color": "#a0a0a0", "strokeWidth": 1},
             "encoding": {
               "x": {"field": "t", "type": "quantitative", "scale": {"domain": [-3, 37], "nice": false, "zero": false}, "axis": {"labels": false, "ticks": false, "title": null}},
               "y": {"field": "v", "type": "quantitative", "scale": {"domain": [0, 80], "nice": false}, "axis": null},
               "detail": {"field": "s"}}},
            {"data": {"name": "gh"}, "transform": [{"filter": "datum.g == 4 && datum.s == 'm'"}],
             "mark": {"type": "line", "interpolate": "monotone", "color": "#1a1a1a", "strokeWidth": 1.5},
             "encoding": {"x": {"field": "t", "type": "quantitative"}, "y": {"field": "v", "type": "quantitative"}}},
            {"data": {"values": [{}]}, "mark": {"type": "rule", "color": "#222", "strokeWidth": 1},
             "encoding": {"x": {"datum": -0.7}, "y": {"datum": 70}, "y2": {"datum": 48}}},
            {"data": {"values": [{}]}, "mark": {"type": "point", "shape": "triangle-down", "filled": true, "color": "#222", "size": 30, "opacity": 1},
             "encoding": {"x": {"datum": -0.7}, "y": {"datum": 47}}}
          ]
        }
      ]
    },
    {
      "spacing": 7,
      "bounds": "flush",
      "title": {"text": "Time after rhGH administration (hr)", "orient": "bottom", "anchor": "middle", "fontSize": 13.5, "offset": 6, "dx": 7},
      "hconcat": [
        {
          "width": 197, "height": 120,
          "layer": [
            {"data": {"name": "gh"}, "transform": [{"filter": "datum.g == 5 && datum.s != 'm'"}],
             "mark": {"type": "line", "interpolate": "monotone", "color": "#a0a0a0", "strokeWidth": 1},
             "encoding": {
               "x": {"field": "t", "type": "quantitative", "scale": {"domain": [-3, 37], "nice": false, "zero": false},
                     "axis": {"values": [-2,-1,0,1,2,3,4,5,6,7,8,9,10,11,12,13,14,15,16,17,18,19,20,21,22,23,24,25,26,27,28,29,30,31,32,33,34,35,36], "labels": false, "tickSize": 2, "title": null}},
               "y": {"field": "v", "type": "quantitative", "scale": {"domain": [0, 80], "nice": false}, "axis": {"values": [0,10,20,30,40,50,60,70,80], "labels": false, "title": "22 kD GH (μg/l)", "titleFontSize": 14, "titleFontWeight": "normal", "titlePadding": 19, "tickSize": 2}},
               "detail": {"field": "s"}}},
            {"data": {"name": "gh"}, "transform": [{"filter": "datum.g == 5 && datum.s == 'm'"}],
             "mark": {"type": "line", "interpolate": "monotone", "color": "#1a1a1a", "strokeWidth": 1.5},
             "encoding": {"x": {"field": "t", "type": "quantitative"}, "y": {"field": "v", "type": "quantitative"}}},
            {"data": {"name": "yticks"}, "mark": {"type": "text", "align": "right", "baseline": "middle", "dx": -3},
             "encoding": {"x": {"datum": -3}, "y": {"field": "v", "type": "quantitative"}, "text": {"field": "v", "type": "quantitative"}}},
            {"data": {"name": "xticks"}, "mark": {"type": "text", "align": "center", "baseline": "top", "dy": 6},
             "encoding": {"x": {"field": "t", "type": "quantitative"}, "y": {"datum": 0}, "text": {"field": "lab"}}},
            {"data": {"values": [{}]}, "mark": {"type": "rule", "color": "#222", "strokeWidth": 1},
             "encoding": {"x": {"datum": 0}, "y": {"datum": 65}, "y2": {"datum": 46}}},
            {"data": {"values": [{}]}, "mark": {"type": "point", "shape": "triangle-down", "filled": true, "color": "#222", "size": 30, "opacity": 1},
             "encoding": {"x": {"datum": 0}, "y": {"datum": 45}}},
            {"data": {"values": [{}]}, "mark": {"type": "text", "text": "0.083 mg/kg sc", "align": "left", "baseline": "middle"},
             "encoding": {"x": {"datum": 31.1}, "y": {"datum": 80}}}
          ]
        },
        {
          "width": 197, "height": 120,
          "layer": [
            {"data": {"name": "gh"}, "transform": [{"filter": "datum.g == 6 && datum.s != 'm'"}],
             "mark": {"type": "line", "interpolate": "monotone", "color": "#a0a0a0", "strokeWidth": 1},
             "encoding": {
               "x": {"field": "t", "type": "quantitative", "scale": {"domain": [-3, 37], "nice": false, "zero": false},
                     "axis": {"values": [-2,-1,0,1,2,3,4,5,6,7,8,9,10,11,12,13,14,15,16,17,18,19,20,21,22,23,24,25,26,27,28,29,30,31,32,33,34,35,36], "labels": false, "tickSize": 2, "title": null}},
               "y": {"field": "v", "type": "quantitative", "scale": {"domain": [0, 80], "nice": false}, "axis": null},
               "detail": {"field": "s"}}},
            {"data": {"name": "gh"}, "transform": [{"filter": "datum.g == 6 && datum.s == 'm'"}],
             "mark": {"type": "line", "interpolate": "monotone", "color": "#1a1a1a", "strokeWidth": 1.5},
             "encoding": {"x": {"field": "t", "type": "quantitative"}, "y": {"field": "v", "type": "quantitative"}}},
            {"data": {"name": "xticks"}, "mark": {"type": "text", "align": "center", "baseline": "top", "dy": 6},
             "encoding": {"x": {"field": "t", "type": "quantitative"}, "y": {"datum": 0}, "text": {"field": "lab"}}},
            {"data": {"values": [{}]}, "mark": {"type": "rule", "color": "#222", "strokeWidth": 1},
             "encoding": {"x": {"datum": -0.9}, "y": {"datum": 67}, "y2": {"datum": 46}}},
            {"data": {"values": [{}]}, "mark": {"type": "point", "shape": "triangle-down", "filled": true, "color": "#222", "size": 30, "opacity": 1},
             "encoding": {"x": {"datum": -0.9}, "y": {"datum": 45}}}
          ]
        }
      ]
    }
  ]
}
